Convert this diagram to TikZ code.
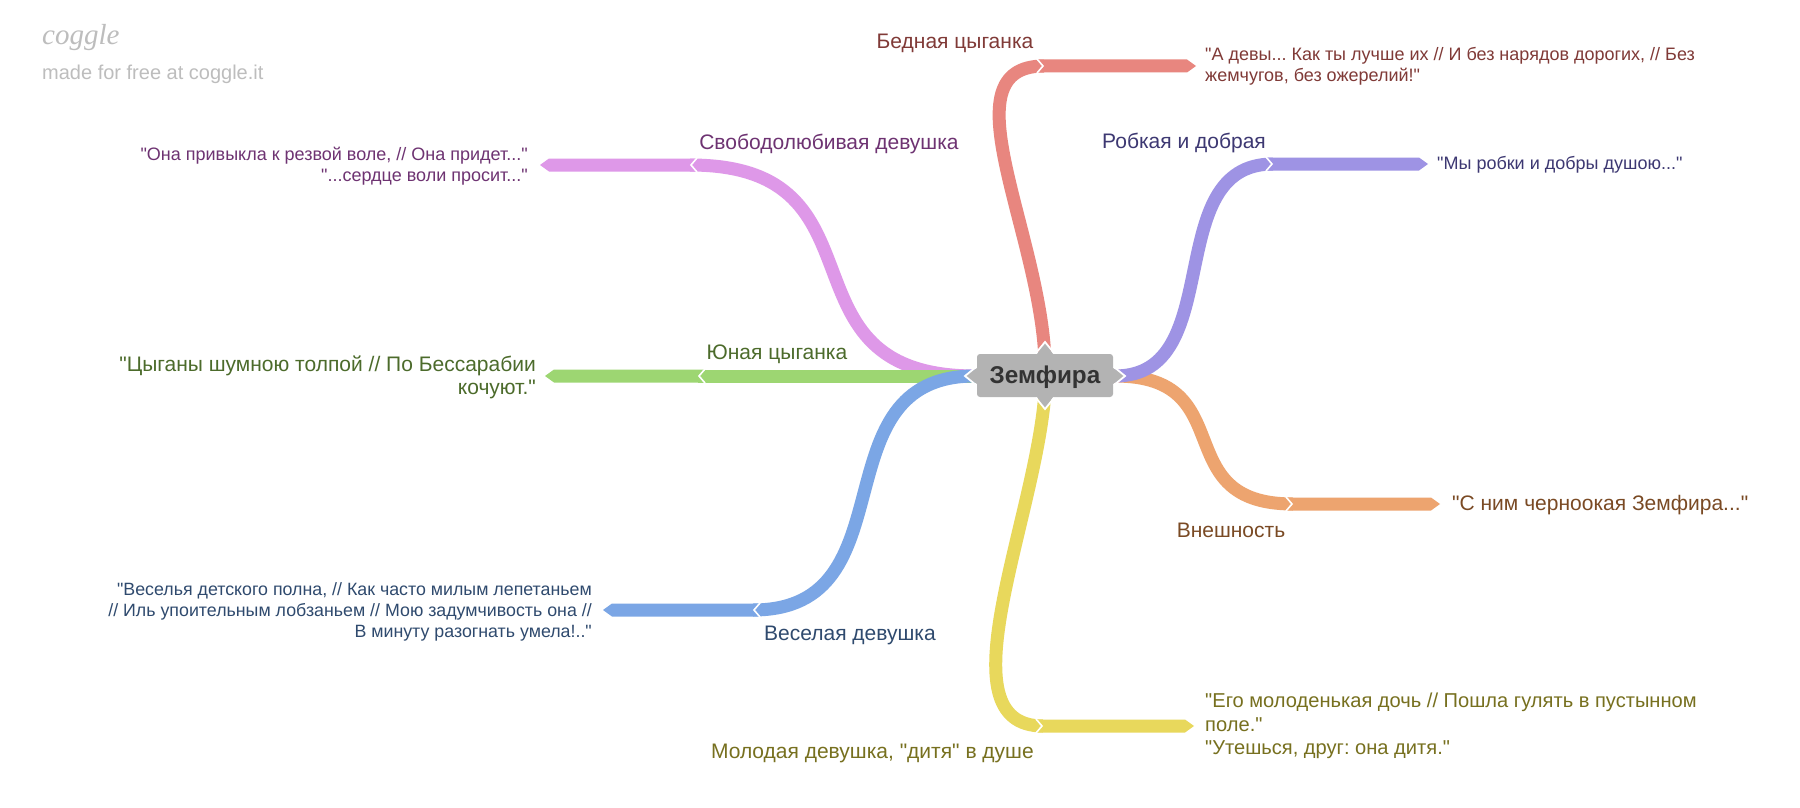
\documentclass[tikz,border=0pt]{standalone}
\usepackage{fontspec}
\setmainfont{Liberation Sans}[Ligatures=TeXOff]
\newfontfamily\logofont{Liberation Serif}
\frenchspacing
\newcommand\dq{"}
\definecolor{cRed}{HTML}{E8867F}
\definecolor{tRed}{HTML}{803A37}
\definecolor{cVio}{HTML}{9E93E4}
\definecolor{tVio}{HTML}{3D3872}
\definecolor{cOra}{HTML}{EDA46F}
\definecolor{tOra}{HTML}{7A4A24}
\definecolor{cYel}{HTML}{E8D85C}
\definecolor{tYel}{HTML}{77701F}
\definecolor{cBlu}{HTML}{7BA6E5}
\definecolor{tBlu}{HTML}{2F4A6E}
\definecolor{cGre}{HTML}{9DD672}
\definecolor{tGre}{HTML}{4C6B2B}
\definecolor{cPin}{HTML}{DE98E8}
\definecolor{tPin}{HTML}{6E3372}
\definecolor{cBox}{HTML}{B3B3B3}
\definecolor{tBox}{HTML}{333333}
\definecolor{cWm}{HTML}{BDBDBD}
\newcommand\rbar[4]{%
  \fill[#1] (#2,#4-6.5) -- (#3-9,#4-6.5) -- (#3,#4) -- (#3-9,#4+6.5) -- (#2,#4+6.5) -- (#2+6,#4) -- cycle;
  \draw[white,line width=1.6] (#2,#4-7) -- (#2+6,#4) -- (#2,#4+7);}
\newcommand\lbar[4]{%
  \fill[#1] (#2,#4-6.5) -- (#3+9,#4-6.5) -- (#3,#4) -- (#3+9,#4+6.5) -- (#2,#4+6.5) -- (#2-6,#4) -- cycle;
  \draw[white,line width=1.6] (#2,#4-7) -- (#2-6,#4) -- (#2,#4+7);}
\tikzset{
  branch/.style={line width=13, line cap=butt},
  lbl/.style={inner sep=0, font=\fontsize{21}{24}\selectfont},
  qsm/.style={inner sep=0, font=\fontsize{18}{21}\selectfont},
  qlg/.style={inner sep=0, font=\fontsize{21}{23.5}\selectfont},
}
\begin{document}
\begin{tikzpicture}[x=1pt,y=-1pt]
\useasboundingbox (0,0) rectangle (1800,808);
\fill[white] (0,0) rectangle (1800,808);

% watermark
\node[anchor=west, inner sep=0, text=cWm, font=\logofont\itshape\fontsize{29}{29}\selectfont] (logo) at (42,38) {coggle};
\node[anchor=west, inner sep=0, text=cWm, font=\fontsize{20}{22}\selectfont] (made) at (42,74) {made for free at coggle.it};

% coordinates
\coordinate (sT) at (1045,360);
\coordinate (sB) at (1045,392);
\coordinate (sL) at (975,376);
\coordinate (sR) at (1115,376);
\coordinate (eRed) at (1044,66);
\coordinate (eVio) at (1273,164);
\coordinate (eOra) at (1293,504);
\coordinate (eYel) at (1043,726);
\coordinate (eBlu) at (753,610);
\coordinate (eGre) at (698,376);
\coordinate (ePin) at (690,165);

% branches
\draw[branch, cRed] (sT) .. controls (1040,230) and (945,66) .. (eRed);
\draw[branch, cYel] (sB) .. controls (1036,520) and (940,726) .. (eYel);
\draw[branch, cOra] (sR) .. controls (1243,376) and (1165,504) .. (eOra);
\draw[branch, cVio] (sR) .. controls (1229,376) and (1159,164) .. (eVio);
\draw[branch, cPin] (sL) .. controls (770,376) and (895,165) .. (ePin);
\draw[branch, cGre] (sL) -- (eGre);
\draw[branch, cBlu] (sL) .. controls (815,376) and (913,610) .. (eBlu);

% bars
\rbar{cRed}{1037}{1196}{66}
\rbar{cVio}{1266}{1428}{164}
\rbar{cOra}{1286}{1440}{504}
\rbar{cYel}{1036}{1194}{726}
\lbar{cBlu}{760}{603}{610}
\lbar{cGre}{705}{545}{376}
\lbar{cPin}{697}{540}{165}

% central box
\fill[cBox, rounded corners=3] (977,354) rectangle (1113,397);
\fill[cBox] (977,368) -- (965,376) -- (977,384) -- cycle;
\fill[cBox] (1113,368) -- (1125,376) -- (1113,384) -- cycle;
\fill[cBox] (1037,354) -- (1045,342) -- (1053,354) -- cycle;
\fill[cBox] (1037,397) -- (1045,409) -- (1053,397) -- cycle;
\draw[white, line width=1.8] (976,367) -- (965,376) -- (976,385);
\draw[white, line width=1.8] (1114,367) -- (1125,376) -- (1114,385);
\draw[white, line width=1.8] (1036,353) -- (1045,342) -- (1054,353);
\draw[white, line width=1.8] (1036,398) -- (1045,409) -- (1054,398);
\node[inner sep=0, text=tBox, font=\bfseries\fontsize{24.3}{26}\selectfont] (zem) at (1045,377) {Земфира};

% labels
\node[lbl, text=tRed] (lRed) at (955,43.5) {Бедная цыганка};
\node[lbl, text=tVio] (lVio) at (1184,142.5) {Робкая и добрая};
\node[lbl, text=tOra] (lOra) at (1231,530.5) {Внешность};
\node[lbl, text=tYel, anchor=east] (lYel) at (1034,753.5) {Молодая девушка, \dq{}дитя\dq{} в душе};
\node[lbl, text=tBlu] (lBlu) at (850,635.5) {Веселая девушка};
\node[lbl, text=tGre] (lGre) at (777,354.5) {Юная цыганка};
\node[lbl, text=tPin] (lPin) at (829,143.5) {Свободолюбивая девушка};

% quotes
\node[qsm, text=tRed, anchor=west, align=left] (qRed) at (1205,66.5)
  {\dq{}А девы... Как ты лучше их // И без нарядов дорогих, // Без\\жемчугов, без ожерелий!\dq{}};
\node[qsm, text=tVio, anchor=west, align=left] (qVio) at (1437,164.5)
  {\dq{}Мы робки и добры душою...\dq{}};
\node[qlg, text=tOra, anchor=west, align=left] (qOra) at (1452,505.5)
  {\dq{}С ним черноокая Земфира...\dq{}};
\node[qsm, text=tYel, anchor=west, align=left, font=\fontsize{20.1}{23.5}\selectfont] (qYel) at (1205,726)
  {\dq{}Его молоденькая дочь // Пошла гулять в пустынном\\поле.\dq{}\\\dq{}Утешься, друг: она дитя.\dq{}};
\node[qsm, text=tBlu, anchor=east, align=right, font=\fontsize{17.8}{21}\selectfont] (qBlu) at (592,611.5)
  {\dq{}Веселья детского полна, // Как часто милым лепетаньем\\// Иль упоительным лобзаньем // Мою задумчивость она //\\В минуту разогнать умела!..\dq{}};
\node[qlg, text=tGre, anchor=east, align=right] (qGre) at (536,377.5)
  {\dq{}Цыганы шумною толпой // По Бессарабии\\кочуют.\dq{}};
\node[qsm, text=tPin, anchor=east, align=right] (qPin) at (528,166)
  {\dq{}Она привыкла к резвой воле, // Она придет...\dq{}\\\dq{}...сердце воли просит...\dq{}};
\end{tikzpicture}
\end{document}
